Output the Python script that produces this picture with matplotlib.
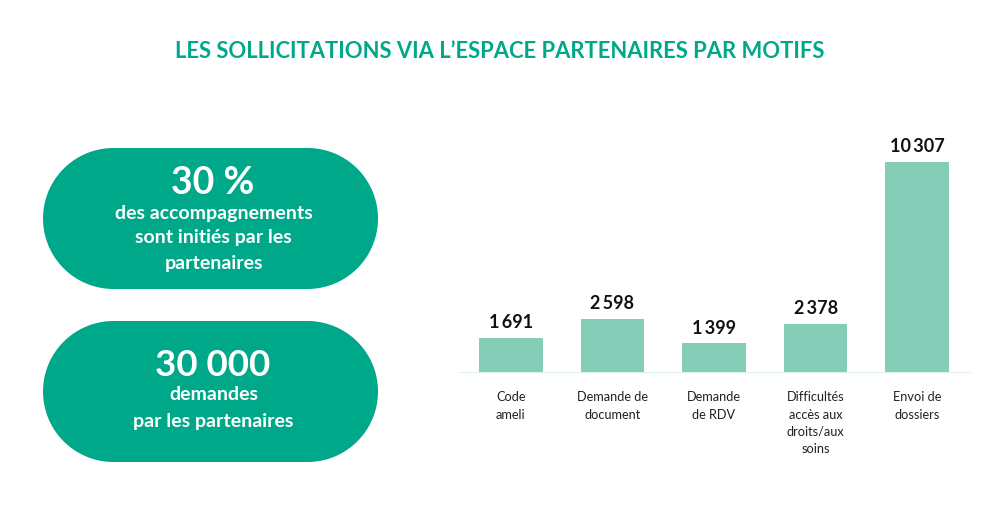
import matplotlib
matplotlib.use("Agg")
import matplotlib.pyplot as plt
import numpy as np
from matplotlib.patches import Polygon

categories = ["Code\nameli", "Demande de\ndocument", "Demande\nde RDV", "Difficultés\naccès aux\ndroits/aux\nsoins", "Envoi de\ndossiers"]
values = [1691, 2598, 1399, 2378, 10307]
value_labels = ["1\u2009691", "2\u2009598", "1\u2009399", "2\u2009378", "10\u2009307"]
title = "LES SOLLICITATIONS VIA L’ESPACE PARTENAIRES PAR MOTIFS"

plt.rcParams['font.family'] = ['Lato', 'DejaVu Sans']
GREEN = "#00A88A"
BAR = "#86CDB8"
fig = plt.figure(figsize=(10, 5.26), dpi=100, facecolor="white")

bg = fig.add_axes([0, 0, 1, 1])
bg.set_xlim(0, 1000); bg.set_ylim(526, 0); bg.axis("off")
bg.text(500, 52, title, ha="center", va="center", fontsize=15.8, color=GREEN, fontweight="bold")


def pill(x0, x1, y0, y1):
    r = (y1 - y0) / 2
    cy = (y0 + y1) / 2
    t = np.linspace(-np.pi / 2, np.pi / 2, 80)
    right = np.column_stack([x1 - r + r * np.cos(t), cy + r * np.sin(t)])
    left = np.column_stack([x0 + r - r * np.cos(t[::-1]), cy + r * np.sin(t[::-1])])
    return Polygon(np.vstack([right, left]), closed=True, fc=GREEN, ec="none")


for y0, y1 in [(148, 289), (321, 462)]:
    bg.add_patch(pill(43, 378, y0, y1))

bg.text(213, 183, "30 %", ha="center", va="center", color="white", fontsize=27, fontweight="bold")
for y, s in [(213, "des accompagnements"), (238, "sont initiés par les"), (263, "partenaires")]:
    bg.text(213.5, y, s, ha="center", va="center", color="white", fontsize=14, fontweight="bold")
bg.text(213, 366, "30 000", ha="center", va="center", color="white", fontsize=26.5, fontweight="bold")
for y, s in [(395, "demandes"), (421, "par les partenaires")]:
    bg.text(213.5, y, s, ha="center", va="center", color="white", fontsize=14, fontweight="bold")

ax = fig.add_axes([460 / 1000, 1 - 372 / 526, 510 / 1000, (372 - 162) / 526])
ax.patch.set_alpha(0)
x = list(range(len(values)))
ax.bar(x, values, width=0.625, color=BAR)
ax.set_xlim(-0.50, 4.52)
ax.set_ylim(0, 10307)
for i, v in enumerate(values):
    ax.annotate(value_labels[i], (i, v), xytext=(0, 5), textcoords="offset points",
                ha="center", va="bottom", fontsize=13, fontweight="bold", color="#111111")
for s in ["top", "left", "right"]:
    ax.spines[s].set_visible(False)
ax.spines["bottom"].set_color("#DDF0EA")
ax.set_yticks([])
ax.set_xticks(x)
ax.set_xticklabels(categories, fontsize=9.2, color="#222222", linespacing=1.52)
ax.tick_params(axis="x", length=0, pad=14)
fig.savefig("out.png", dpi=100, facecolor="white")
